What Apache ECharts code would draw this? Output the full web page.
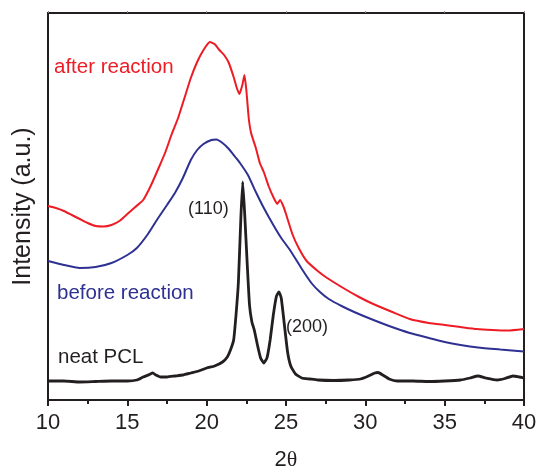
<!DOCTYPE html>
<html>
<head>
<meta charset="utf-8">
<script src="https://cdn.jsdelivr.net/npm/echarts@6/dist/echarts.min.js"></script>
<style>html,body{margin:0;padding:0;background:#fff;}#c{width:536px;height:469px;}</style>
</head>
<body>
<div id="c"></div>
<script>
// 2theta (deg) and intensity (arbitrary units, offset stacked)
const redX = [10,10.5,11,11.5,12,12.5,13,13.5,14,14.5,15,15.5,16.0,16.5,17.0,17.4,17.8,18.2,18.6,19.0,19.4,19.8,20.2,20.5,20.8,21.1,21.4,21.7,21.9,22.06,22.25,22.38,22.5,22.65,22.8,23.1,23.35,23.6,23.9,24.2,24.45,24.62,24.8,25.0,25.4,25.8,26.3,27,27.5,28.5,29.6,30.5,31.7,32.8,34,35,36,37,38,39,40];
const redY = [194,192,189,185,181,177,174,173.5,175,179,186,193,200,215,233,248,266,282,302,322,338,350,358,356,350,345,337,323,312,306,315,325,310,282,267,252,237,228,214,203,196,200,195,186,166,152,139,129,123,113,103,96,88,81,77,75,73,71,70,69.5,71];

const blueX = [10,11,12,13,14,15,15.6,16.3,16.9,17.5,18.0,18.5,19.0,19.4,19.8,20.3,20.6,21.0,21.4,21.8,22.1,22.6,23.1,23.57,24.2,24.7,25.25,26.0,26.6,27.14,27.7,28.5,29.3,30.2,31.5,32.8,34,35,36,37.1,38.5,40];
const blueY = [139,135,132,133,137,145,152,166,181,195,207,222,240,250,256,260,260.5,257,251,243,237,225,208,193,175,162,150,131,117,108,101,94,88,82,74,67,62,58,55,52.5,50.5,48.5];

const blackX = [10,11,12,13,14,15,15.6,16.0,16.4,16.6,16.8,17.1,17.5,18,18.5,19,19.5,20,20.5,21,21.3,21.5,21.7,21.85,22.0,22.15,22.27,22.4,22.55,22.7,22.85,23.0,23.2,23.4,23.6,23.8,24.0,24.2,24.4,24.56,24.7,24.9,25.1,25.3,25.6,26,26.5,27,28,29,29.7,30.2,30.6,30.8,31.1,31.5,32,33,34,35,36,36.6,37.1,37.6,38.3,38.8,39.3,39.7,40];
const blackY = [19,19,18,18.5,19,19,20,23,25.5,27,25,23,23,24,25,27,29,32,34,38,43,50,60,85,118,180,218,185,138,95,78,70,55,42,37,42,60,85,104,108,102,75,48,34,26,22,21,20,19.5,20,21,24,27,27.5,25,21,19,19,18.5,19,20,22,24,22,20,21.5,24,23,22];

const xTicks = [10,15,20,25,30,35,40];
const seriesNames = ['after reaction','before reaction','neat PCL'];

function zip(xs, ys){ return xs.map((x,i)=>[x, ys[i]]); }

const chart = echarts.init(document.getElementById('c'), null, {renderer:'canvas'});
const axisCol = '#231f20';
const font = '"Liberation Sans", Arial, Helvetica, sans-serif';
chart.setOption({
  animation:false,
  backgroundColor:'#ffffff',
  grid:{left:48,right:12,top:13,bottom:69,containLabel:false,outerBoundsMode:'none'},
  xAxis:[{
    type:'value', min:xTicks[0], max:xTicks[xTicks.length-1], interval:5, position:'bottom',
    axisLine:{show:true,onZero:false,lineStyle:{color:axisCol,width:2}},
    axisTick:{show:true,inside:false,length:6,lineStyle:{color:axisCol,width:2}},
    minorTick:{show:true,splitNumber:2,length:4,lineStyle:{color:axisCol,width:2}},
    splitLine:{show:false},
    axisLabel:{fontSize:22,color:axisCol,fontFamily:font,margin:12},
    name:'{a|2}{b|θ}', nameLocation:'middle', nameGap:49,
    nameTextStyle:{rich:{a:{fontSize:22,color:axisCol,fontFamily:font},b:{fontSize:22,color:axisCol,fontFamily:'"Liberation Serif","Times New Roman",serif'}}}
  },{
    type:'value', min:xTicks[0], max:xTicks[xTicks.length-1], interval:5, position:'top',
    axisLine:{show:true,onZero:false,lineStyle:{color:axisCol,width:2}},
    axisTick:{show:true,inside:false,length:2,lineStyle:{color:'#888',width:1}},
    axisLabel:{show:false}, splitLine:{show:false}
  }],
  yAxis:[{
    type:'value', min:0, max:387, position:'left',
    axisLine:{show:true,onZero:false,lineStyle:{color:axisCol,width:2}},
    axisTick:{show:false}, axisLabel:{show:false}, splitLine:{show:false},
    name:'Intensity (a.u.)', nameLocation:'middle', nameGap:12, nameRotate:90,
    nameTextStyle:{fontSize:25,color:axisCol,fontFamily:font}
  },{
    type:'value', min:0, max:387, position:'right',
    axisLine:{show:true,onZero:false,lineStyle:{color:axisCol,width:2}},
    axisTick:{show:false}, axisLabel:{show:false}, splitLine:{show:false}
  }],
  series:[
    {name:seriesNames[0],type:'line',data:zip(redX,redY),showSymbol:false,smooth:0.15,lineStyle:{color:'#ed1c24',width:2}},
    {name:seriesNames[1],type:'line',data:zip(blueX,blueY),showSymbol:false,smooth:0.15,lineStyle:{color:'#2e3192',width:2}},
    {name:seriesNames[2],type:'line',data:zip(blackX,blackY),showSymbol:false,smooth:0.15,lineStyle:{color:'#231f20',width:2.8}}
  ],
  graphic:[
    {type:'text',left:54,top:57,style:{text:'after reaction',fontSize:20.5,fill:'#ed1c24',fontFamily:font}},
    {type:'text',left:57,top:283,style:{text:'before reaction',fontSize:20.5,fill:'#2e3192',fontFamily:font}},
    {type:'text',left:58,top:347,style:{text:'neat PCL',fontSize:20.5,fill:'#231f20',fontFamily:font}},
    {type:'text',left:188,top:200,style:{text:'(110)',fontSize:18,fill:'#231f20',fontFamily:font}},
    {type:'text',left:286,top:318,style:{text:'(200)',fontSize:18,fill:'#231f20',fontFamily:font}}
  ]
});
</script>
</body>
</html>
